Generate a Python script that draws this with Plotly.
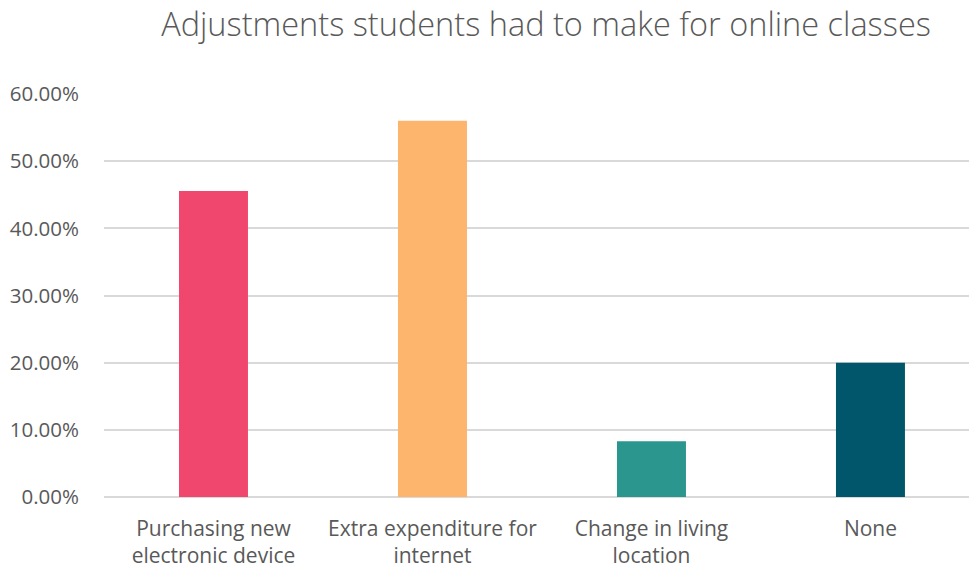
import plotly.graph_objects as go

categories = ["Purchasing new<br>electronic device", "Extra expenditure for<br>internet",
              "Change in living<br>location", "None"]
values = [0.4555, 0.560, 0.083, 0.200]
colors = ["#F0476F", "#FDB46C", "#2A968E", "#02566B"]
tick_vals = [0, 0.1, 0.2, 0.3, 0.4, 0.5, 0.6]
tick_text = ["0.00%", "10.00%", "20.00%", "30.00%", "40.00%", "50.00%", "60.00%"]

fig = go.Figure(go.Bar(x=categories, y=values, marker=dict(color=colors, line=dict(width=0)),
                       width=0.315))

fig.update_layout(
    width=969, height=569,
    margin=dict(l=104, r=0, t=94, b=72),
    paper_bgcolor="white", plot_bgcolor="white",
    font=dict(family="Open Sans, sans-serif", color="#595959"),
    title=dict(text="Adjustments students had to make for online classes",
               x=546/969, xanchor="center", xref="container",
               y=1-25/569, yanchor="middle", yref="container",
               font=dict(size=32.5, color="#595959", family="Open Sans, sans-serif", weight=300)),
    showlegend=False,
)
fig.update_xaxes(range=[-0.5, 3.45], showgrid=False, showline=False, ticks="",
                 ticklabelstandoff=17,
                 tickfont=dict(size=21, color="#595959"))
fig.update_yaxes(range=[0, 0.6], tickvals=tick_vals, ticktext=tick_text,
                 showgrid=True, gridcolor="#D9D9D9", gridwidth=1.5,
                 zeroline=True, zerolinecolor="#D9D9D9", zerolinewidth=1.5,
                 showline=False, ticks="", ticklabelstandoff=24,
                 tickfont=dict(size=20.5, color="#595959"))

fig.write_html("out.html")
